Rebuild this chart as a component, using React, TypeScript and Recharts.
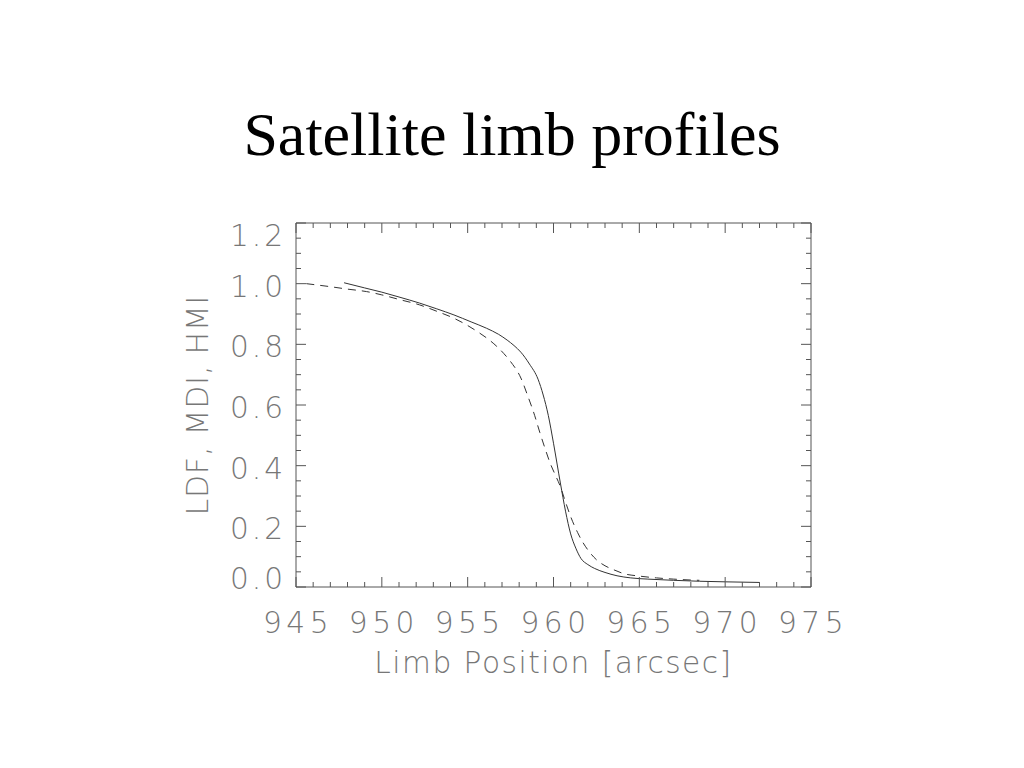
import React from "react";
import { LineChart, Line, XAxis, YAxis } from "recharts";

// limb positions in arcsec, normalised intensity
const solidX = [947.8, 949, 950, 951, 952.2, 953.2, 954.2, 955.2, 956.1, 956.8, 957.3, 957.7, 958.1, 958.6, 959.1, 959.4, 959.7, 960.0, 960.4, 960.7, 961.0, 961.3, 961.6, 962.0, 962.4, 963.0, 963.7, 964.5, 965.5, 967, 968.5, 970, 972];
const solidY = [1.003, 0.986, 0.972, 0.956, 0.936, 0.917, 0.897, 0.874, 0.853, 0.833, 0.814, 0.796, 0.774, 0.735, 0.685, 0.633, 0.565, 0.474, 0.343, 0.25, 0.175, 0.128, 0.094, 0.074, 0.061, 0.048, 0.037, 0.03, 0.026, 0.022, 0.019, 0.017, 0.015];

const dashedX = [945.6, 947, 948, 949.1, 950, 951, 952.2, 953.2, 954.2, 955, 955.7, 956.2, 956.7, 957.1, 957.5, 958.1, 958.5, 958.9, 959.2, 959.5, 959.8, 960.1, 960.4, 960.7, 961.0, 961.4, 961.7, 962.1, 962.5, 963.0, 963.5, 964.1, 965, 966, 967, 968, 968.5];
const dashedY = [1.0, 0.99, 0.982, 0.974, 0.963, 0.948, 0.93, 0.909, 0.886, 0.862, 0.837, 0.817, 0.793, 0.77, 0.743, 0.689, 0.63, 0.566, 0.51, 0.458, 0.409, 0.37, 0.331, 0.28, 0.232, 0.18, 0.148, 0.115, 0.09, 0.07, 0.057, 0.044, 0.036, 0.03, 0.026, 0.023, 0.022];

const xTicks = [945, 946, 947, 948, 949, 950, 951, 952, 953, 954, 955, 956, 957, 958, 959, 960, 961, 962, 963, 964, 965, 966, 967, 968, 969, 970, 971, 972, 973, 974, 975];
const yTicks = [0, 0.05, 0.1, 0.15, 0.2, 0.25, 0.3, 0.35, 0.4, 0.45, 0.5, 0.55, 0.6, 0.65, 0.7, 0.75, 0.8, 0.85, 0.9, 0.95, 1.0, 1.05, 1.1, 1.15, 1.2];

const solid = solidX.map((x, i) => ({ x, y: solidY[i] }));
const dashed = dashedX.map((x, i) => ({ x, y: dashedY[i] }));

const AXIS = "#555";
const TEXT = "#777";
const font = { fontFamily: "DejaVu Sans", fontWeight: 200, fontSize: 29.6, fill: TEXT };

const isMajorX = (v: number) => v % 5 === 0;
const isMajorY = (v: number) => Math.abs(v * 5 - Math.round(v * 5)) < 1e-6;

const BottomTick = ({ x, y, payload }: any) => {
  const v = payload.value;
  const major = isMajorX(v);
  return (
    <g>
      <line x1={x} y1={y} x2={x} y2={y - (major ? 10 : 5)} stroke={AXIS} />
      {major && (
        <text x={x + 2} y={y + 46} textAnchor="middle" letterSpacing={4.5} {...font}>
          {v}
        </text>
      )}
    </g>
  );
};

const TopTick = ({ x, y, payload }: any) => {
  const major = isMajorX(payload.value);
  return <line x1={x} y1={y} x2={x} y2={y + (major ? 10 : 5)} stroke={AXIS} />;
};

const LeftTick = ({ x, y, payload }: any) => {
  const v = payload.value;
  const major = isMajorY(v);
  let shift = 2;
  if (v === 1.2) shift = 12;
  if (v === 0) shift = -9;
  return (
    <g>
      <line x1={x} y1={y} x2={x + (major ? 10 : 5)} y2={y} stroke={AXIS} />
      {major && (
        <text x={x - 10} y={y + shift + 11} textAnchor="end" letterSpacing={3} {...font}>
          {v.toFixed(1)}
        </text>
      )}
    </g>
  );
};

const RightTick = ({ x, y, payload }: any) => {
  const major = isMajorY(payload.value);
  return <line x1={x} y1={y} x2={x - (major ? 10 : 5)} y2={y} stroke={AXIS} />;
};

const XTitle = ({ viewBox }: any) => (
  <text x={viewBox.x + viewBox.width / 2} y={viewBox.y + 86} textAnchor="middle" letterSpacing={1.5} {...font}>
    Limb Position [arcsec]
  </text>
);

const YTitle = ({ viewBox }: any) => {
  const cx = viewBox.x + 32;
  const cy = viewBox.y + viewBox.height / 2;
  return (
    <text x={cx} y={cy} transform={`rotate(-90 ${cx} ${cy})`} textAnchor="middle" letterSpacing={1} {...font}>
      LDF, MDI, HMI
    </text>
  );
};

export default function App() {
  return (
    <div style={{ position: "absolute", left: 0, top: 0, width: 1024, height: 768, background: "#fff" }}>
      <div
        style={{
          position: "absolute",
          top: 103,
          left: 0,
          width: 1024,
          textAlign: "center",
          fontFamily: "'Liberation Serif', 'Times New Roman', serif",
          fontSize: 62,
          lineHeight: "62px",
          color: "#000",
        }}
      >
        Satellite limb profiles
      </div>
      <LineChart width={1024} height={768} margin={{ top: 222, right: 212, bottom: 0, left: 176 }}>
        <XAxis
          xAxisId="main"
          dataKey="x"
          type="number"
          domain={[945, 975]}
          allowDataOverflow
          ticks={xTicks}
          interval={0}
          height={181}
          tickSize={0}
          tickMargin={0}
          tickLine={false}
          axisLine={{ stroke: AXIS }}
          tick={BottomTick}
          label={{ content: XTitle }}
        />
        <XAxis
          xAxisId="top"
          dataKey="x"
          orientation="top"
          type="number"
          domain={[945, 975]}
          allowDataOverflow
          ticks={xTicks}
          interval={0}
          height={1}
          tickSize={0}
          tickMargin={0}
          tickLine={false}
          axisLine={{ stroke: AXIS }}
          tick={TopTick}
        />
        <YAxis
          yAxisId="main"
          type="number"
          domain={[0, 1.2]}
          allowDataOverflow
          ticks={yTicks}
          interval={0}
          width={120}
          tickSize={0}
          tickMargin={0}
          tickLine={false}
          axisLine={{ stroke: AXIS }}
          tick={LeftTick}
          label={{ content: YTitle }}
        />
        <YAxis
          yAxisId="right"
          orientation="right"
          type="number"
          domain={[0, 1.2]}
          allowDataOverflow
          ticks={yTicks}
          interval={0}
          width={1}
          tickSize={0}
          tickMargin={0}
          tickLine={false}
          axisLine={{ stroke: AXIS }}
          tick={RightTick}
        />
        <Line
          xAxisId="top"
          yAxisId="right"
          data={solid}
          dataKey="y"
          stroke="none"
          dot={false}
          activeDot={false}
          legendType="none"
          isAnimationActive={false}
        />
        <Line
          xAxisId="main"
          yAxisId="main"
          data={solid}
          dataKey="y"
          type="monotone"
          stroke="#333"
          strokeWidth={1}
          dot={false}
          isAnimationActive={false}
        />
        <Line
          xAxisId="main"
          yAxisId="main"
          data={dashed}
          dataKey="y"
          type="monotone"
          stroke="#333"
          strokeWidth={1}
          strokeDasharray="8 6"
          dot={false}
          isAnimationActive={false}
        />
      </LineChart>
    </div>
  );
}
